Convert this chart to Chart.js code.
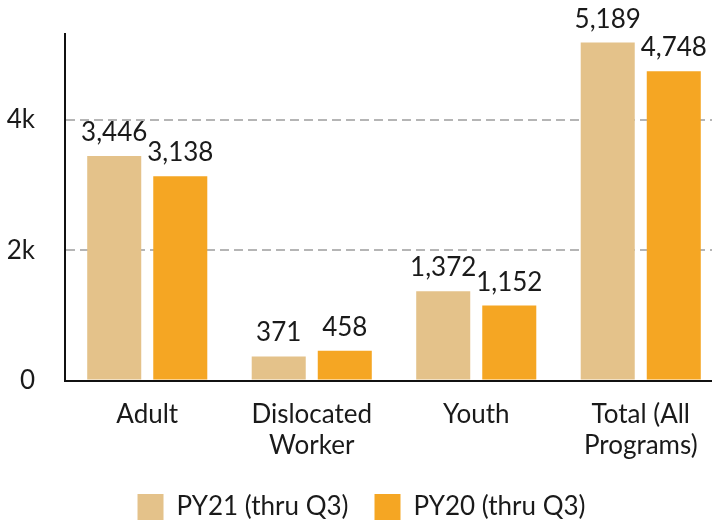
<!DOCTYPE html>
<html>
<head>
<meta charset="utf-8">
<script src="https://cdn.jsdelivr.net/npm/chart.js@4"></script>
<style>
  html, body { margin: 0; padding: 0; background: #fff; overflow: hidden; }
  #wrap { position: relative; width: 724px; height: 523px; }
</style>
</head>
<body>
<div id="wrap"><canvas id="chart"></canvas></div>
<script>
const CATEGORIES = ['Adult', ['Dislocated', 'Worker'], 'Youth', ['Total (All', 'Programs)']];
const PY21 = [3446, 371, 1372, 5189];
const PY20 = [3138, 458, 1152, 4748];
const SERIES_NAMES = ['PY21 (thru Q3)', 'PY20 (thru Q3)'];
const Y_TICKS = [0, 2000, 4000];

const TEXT = '#1a1a1a';
const FONT = 'Lato';
const FS = 26;

// value labels above each bar
const valueLabels = {
  id: 'valueLabels',
  afterDatasetsDraw(chart) {
    const ctx = chart.ctx;
    ctx.save();
    ctx.font = `${FS}px ${FONT}`;
    ctx.fillStyle = TEXT;
    ctx.textAlign = 'center';
    ctx.textBaseline = 'alphabetic';
    chart.data.datasets.forEach((ds, i) => {
      chart.getDatasetMeta(i).data.forEach((bar, j) => {
        ctx.fillText(ds.data[j].toLocaleString('en-US'), bar.x, bar.y - 15);
      });
    });
    ctx.restore();
  }
};

new Chart(document.getElementById('chart'), {
  type: 'bar',
  data: {
    labels: CATEGORIES,
    datasets: [
      { label: SERIES_NAMES[0], data: PY21, backgroundColor: '#e4c28a', categoryPercentage: 0.803, barPercentage: 0.818 },
      { label: SERIES_NAMES[1], data: PY20, backgroundColor: '#f5a623', categoryPercentage: 0.803, barPercentage: 0.818 }
    ]
  },
  options: {
    responsive: true, maintainAspectRatio: false, animation: false,
    layout: { padding: { top: 34, left: 0, right: 1, bottom: -7 } },
    scales: {
      x: {
        afterFit: axis => { axis.height -= 3; },
        grid: { display: false },
        border: { display: true, color: '#111', width: 2 },
        ticks: { color: TEXT, font: { family: FONT, size: FS, lineHeight: 1.2 }, padding: 10, maxRotation: 0, autoSkip: false }
      },
      y: {
        min: 0, max: 5320,
        afterBuildTicks: axis => { axis.ticks = Y_TICKS.map(v => ({ value: v })); },
        afterFit: axis => { axis.width = 65; axis.paddingTop = 0; axis.paddingBottom = 0; },
        grid: {
          drawTicks: false,
          color: ctx => ctx.tick && ctx.tick.value === 0 ? 'rgba(0,0,0,0)' : '#b5b5b5',
          lineWidth: 2
        },
        border: { display: true, color: '#111', width: 2, dash: [9, 5] },
        ticks: {
          color: TEXT, font: { family: FONT, size: FS }, padding: 30,
          callback: v => v === 0 ? '0' : (v / 1000) + 'k'
        }
      }
    },
    plugins: {
      legend: {
        position: 'bottom',
        labels: { color: TEXT, font: { family: FONT, size: FS }, boxWidth: 26, boxHeight: 26, padding: 26 }
      },
      tooltip: { enabled: false }
    }
  },
  plugins: [valueLabels]
});
</script>
</body>
</html>
